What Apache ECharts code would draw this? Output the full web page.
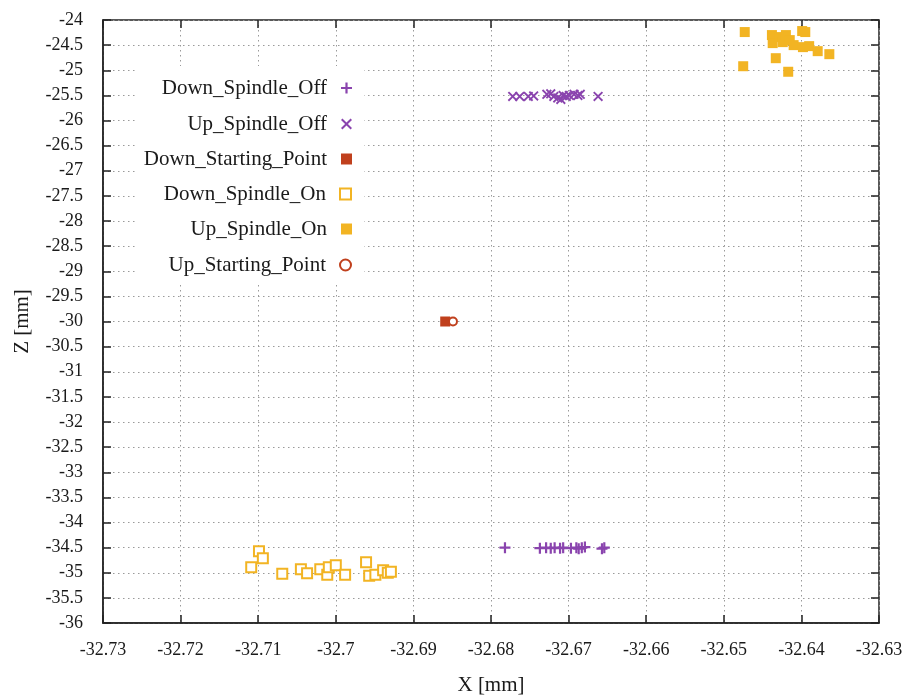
<!DOCTYPE html>
<html><head><meta charset="utf-8">
<script src="https://cdn.jsdelivr.net/npm/echarts@6/dist/echarts.min.js"></script>
<style>html,body{margin:0;padding:0;background:#fff}#c{width:913px;height:697px}</style>
</head><body><div id="c"></div>
<script>
const seriesNames = ['Down_Spindle_Off','Up_Spindle_Off','Down_Starting_Point','Down_Spindle_On','Up_Spindle_On','Up_Starting_Point'];
const xTicks = [-32.73,-32.72,-32.71,-32.70,-32.69,-32.68,-32.67,-32.66,-32.65,-32.64,-32.63];
const yTicks = [-36,-35.5,-35,-34.5,-34,-33.5,-33,-32.5,-32,-31.5,-31,-30.5,-30,-29.5,-29,-28.5,-28,-27.5,-27,-26.5,-26,-25.5,-25,-24.5,-24];

const downSpindleOff = [
  [-32.6782,-34.50],[-32.6737,-34.51],[-32.6729,-34.50],[-32.6723,-34.51],[-32.6718,-34.50],
  [-32.6711,-34.51],[-32.6707,-34.50],[-32.6697,-34.51],[-32.6690,-34.50],[-32.6687,-34.52],
  [-32.6683,-34.50],[-32.6679,-34.49],[-32.6657,-34.52],[-32.6654,-34.50]
];
const upSpindleOff = [
  [-32.6772,-25.52],[-32.6763,-25.52],[-32.6752,-25.52],[-32.6745,-25.51],[-32.6728,-25.48],
  [-32.6723,-25.47],[-32.6719,-25.52],[-32.6714,-25.55],[-32.6710,-25.58],[-32.6707,-25.50],
  [-32.6703,-25.52],[-32.6699,-25.50],[-32.6693,-25.48],[-32.6688,-25.50],[-32.6685,-25.48],
  [-32.6662,-25.52]
];
const downStartingPoint = [[-32.6859,-30.00]];
const downSpindleOn = [
  [-32.7099,-34.57],[-32.7094,-34.71],[-32.7109,-34.89],[-32.7069,-35.02],[-32.7045,-34.93],
  [-32.7037,-35.01],[-32.7020,-34.93],[-32.7011,-35.04],[-32.7009,-34.89],[-32.7000,-34.85],
  [-32.6988,-35.04],[-32.6961,-34.79],[-32.6957,-35.06],[-32.6949,-35.04],[-32.6939,-34.95],
  [-32.6933,-35.00],[-32.6929,-34.98]
];
const upSpindleOn = [
  [-32.6473,-24.24],[-32.6475,-24.92],[-32.6438,-24.30],[-32.6437,-24.46],[-32.6428,-24.34],
  [-32.6424,-24.44],[-32.6420,-24.30],[-32.6415,-24.40],[-32.6410,-24.50],[-32.6399,-24.22],
  [-32.6395,-24.24],[-32.6398,-24.54],[-32.6390,-24.52],[-32.6379,-24.62],[-32.6364,-24.68],
  [-32.6433,-24.76],[-32.6417,-25.03]
];
const upStartingPoint = [[-32.6849,-30.00]];

const PURPLE = '#8a44ae', ORANGE = '#f2b423', RED = '#c0401d';
const FONT = '"Liberation Serif", "Times New Roman", serif';
const plusPath = 'path://M4,0H6V4H10V6H6V10H4V6H0V4H4Z';
const crossPath = 'path://M0,1.3L1.3,0L5,3.7L8.7,0L10,1.3L6.3,5L10,8.7L8.7,10L5,6.3L1.3,10L0,8.7L3.7,5Z';

const fmt = v => String(parseFloat(Number(v).toFixed(2)));

const chart = echarts.init(document.getElementById('c'), null, {renderer:'canvas'});
const legendCenters = [88, 124, 159, 194, 229, 265];
const legends = seriesNames.map((n,i) => ({
  data:[n], right: 561, top: legendCenters[i] - 12, orient:'vertical', align:'right',
  itemWidth: 11, itemHeight: 11, itemGap: 0, padding: 0, z: 10,
  selectedMode: false,
  textStyle:{fontFamily:FONT, fontSize:21, lineHeight:24, color:'#1a1a1a', padding:[0,9,0,0]}
}));

const dotted = {show:true, lineStyle:{color:'#9a9a9a', type:[1.5,3.5], width:1}};
const option = {
  backgroundColor:'#fff',
  animation:false,
  grid:{left:103, right:34, top:20, bottom:74, show:true, borderColor:'#222', borderWidth:1.5, backgroundColor:'transparent', containLabel:false, outerBoundsMode:'none'},
  legend: legends,
  graphic:[{type:'rect', left:138, top:66, shape:{width:226, height:218}, style:{fill:'#fff'}, z:5, silent:true}],
  xAxis:[{
    type:'value', min:xTicks[0], max:xTicks[xTicks.length-1], interval:0.01,
    name:'X [mm]', nameLocation:'middle', nameGap:52,
    nameTextStyle:{fontFamily:FONT, fontSize:21, color:'#1a1a1a'},
    axisLine:{show:true, onZero:false, lineStyle:{color:'#222', width:1.5}},
    axisTick:{show:true, inside:true, length:8, lineStyle:{color:'#222', width:1.5}},
    axisLabel:{fontFamily:FONT, fontSize:18, color:'#1a1a1a', margin:18, formatter:fmt},
    splitLine:dotted
  },{
    type:'value', position:'top', min:xTicks[0], max:xTicks[xTicks.length-1], interval:0.01,
    axisLine:{show:false}, axisTick:{show:true, inside:true, length:8, lineStyle:{color:'#222', width:1.5}},
    axisLabel:{show:false}, splitLine:{show:false}
  }],
  yAxis:[{
    type:'value', min:yTicks[0], max:yTicks[yTicks.length-1], interval:0.5,
    name:'Z [mm]', nameLocation:'middle', nameGap:70, nameRotate:90,
    nameTextStyle:{fontFamily:FONT, fontSize:21, color:'#1a1a1a'},
    axisLine:{show:true, onZero:false, lineStyle:{color:'#222', width:1.5}},
    axisTick:{show:true, inside:true, length:8, lineStyle:{color:'#222', width:1.5}},
    axisLabel:{fontFamily:FONT, fontSize:18, color:'#1a1a1a', margin:20, formatter:fmt},
    splitLine:dotted
  },{
    type:'value', position:'right', min:yTicks[0], max:yTicks[yTicks.length-1], interval:0.5,
    axisLine:{show:false}, axisTick:{show:true, inside:true, length:8, lineStyle:{color:'#222', width:1.5}},
    axisLabel:{show:false}, splitLine:{show:false}
  }],
  series:[
    {name:seriesNames[0], type:'scatter', data:downSpindleOff, symbol:plusPath, symbolSize:11, itemStyle:{color:PURPLE, opacity:1}},
    {name:seriesNames[1], type:'scatter', data:upSpindleOff, symbol:crossPath, symbolSize:10, itemStyle:{color:PURPLE, opacity:1}},
    {name:seriesNames[2], type:'scatter', data:downStartingPoint, symbol:'rect', symbolSize:10, itemStyle:{color:RED, opacity:1}},
    {name:seriesNames[3], type:'scatter', data:downSpindleOn, symbol:'emptyRect', symbolSize:10, itemStyle:{color:ORANGE, borderColor:ORANGE, borderWidth:1.8, opacity:1}},
    {name:seriesNames[4], type:'scatter', data:upSpindleOn, symbol:'rect', symbolSize:10, itemStyle:{color:ORANGE, opacity:1}},
    {name:seriesNames[5], type:'scatter', data:upStartingPoint, symbol:'emptyCircle', symbolSize:8, itemStyle:{color:RED, borderColor:RED, borderWidth:2, opacity:1}}
  ]
};
chart.setOption(option);
</script>
</body></html>
